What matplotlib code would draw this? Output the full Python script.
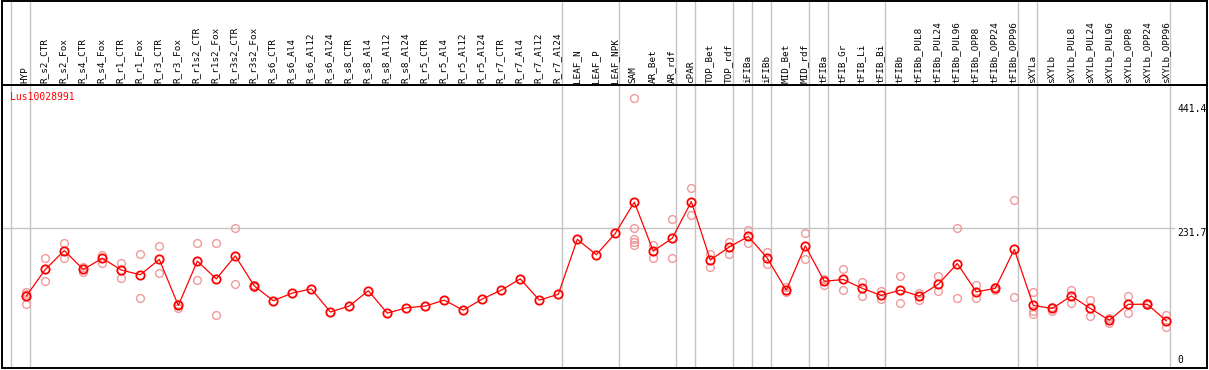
import numpy as np
import matplotlib
matplotlib.use("Agg")
import matplotlib.pyplot as plt

gene = "Lus10028991"

samples = [
    "HYP", "R_s2_CTR", "R_s2_Fox", "R_s4_CTR", "R_s4_Fox", "R_r1_CTR", "R_r1_Fox",
    "R_r3_CTR", "R_r3_Fox", "R_r1s2_CTR", "R_r1s2_Fox", "R_r3s2_CTR", "R_r3s2_Fox",
    "R_s6_CTR", "R_s6_Al4", "R_s6_Al12", "R_s6_Al24", "R_s8_CTR", "R_s8_Al4",
    "R_s8_Al12", "R_s8_Al24", "R_r5_CTR", "R_r5_Al4", "R_r5_Al12", "R_r5_Al24",
    "R_r7_CTR", "R_r7_Al4", "R_r7_Al12", "R_r7_Al24", "LEAF_N", "LEAF_P", "LEAF_NPK",
    "SAM", "AR_Bet", "AR_rdf", "cPAR", "TOP_Bet", "TOP_rdf", "iFIBa", "iFIBb",
    "MID_Bet", "MID_rdf", "tFIBa", "tFIB_Gr", "tFIB_Li", "tFIB_Bi", "tFIBb",
    "tFIBb_PUL8", "tFIBb_PUL24", "tFIBb_PUL96", "tFIBb_OPP8", "tFIBb_OPP24",
    "tFIBb_OPP96", "sXYLa", "sXYLb", "sXYLb_PUL8", "sXYLb_PUL24", "sXYLb_PUL96",
    "sXYLb_OPP8", "sXYLb_OPP24", "sXYLb_OPP96",
]

# mean expression per sample
means = [
    117, 162, 194, 162, 181, 161, 153, 179, 101, 176, 146, 185, 134,
    109, 122, 129, 90, 100, 126, 88, 97, 100, 110, 93, 112, 127, 146, 110, 120,
    213, 187, 223,
    276, 193, 215, 277, 178, 200, 218, 181, 127, 202, 142, 145, 130, 118, 127,
    117, 137, 172, 124, 130, 196, 101, 96, 117, 96, 76, 103, 103, 75,
]

# individual replicate values (empty where hidden behind the mean)
replicates = [
    [124, 121, 104], [181, 142], [207, 181], [166, 158], [187, 173], [173, 148],
    [189, 113], [202, 156], [104, 97], [207, 144], [207, 85], [232, 137], [136, 132],
    [], [], [], [], [], [], [], [], [], [], [], [], [], [], [], [],
    [], [], [],
    [452, 232, 214, 209, 204], [203, 182], [247, 181], [300, 255], [189, 167],
    [209, 189], [229, 207], [192, 171], [123, 132], [223, 179], [145, 136],
    [162, 127], [141, 117], [126, 112], [151, 105],
    [122, 110], [151, 125], [232, 113], [135, 114], [132, 128], [279, 115],
    [124, 92, 86], [99, 92], [128, 105], [110, 84], [79, 72], [117, 89],
    [105, 101], [85, 64],
]

# group separators (after these sample indices); -1 is the line before HYP
group_breaks = [-1, 0, 28, 31, 34, 35, 37, 38, 39, 41, 42, 45, 52, 53, 60]

scale_ticks = [441.4, 231.7, 0]

W, H = 1209, 370
fig = plt.figure(figsize=(W / 100, H / 100), dpi=100)

# pixel geometry of reference
x0_px, dx_px = 26.3, 19.0
y0_px, dy_px = 365.1, 0.5904
left_px, right_px = 2, 1207
head_bot_px, plot_bot_px = 85, 368

def xdat(px):
    return (px - x0_px) / dx_px

def ydat(py):
    return (y0_px - py) / dy_px

ax = fig.add_axes([left_px / W, (H - plot_bot_px) / H,
                   (right_px - left_px) / W, (plot_bot_px - head_bot_px) / H])
axh = fig.add_axes([left_px / W, (H - head_bot_px) / H,
                    (right_px - left_px) / W, (head_bot_px - 1) / H])

xlim = (xdat(left_px), xdat(right_px))
for a in (ax, axh):
    a.set_xlim(*xlim)
    a.set_xticks([])
    a.set_yticks([])
    for s in a.spines.values():
        s.set_color("black")
        s.set_linewidth(1.4)
ax.set_ylim(ydat(plot_bot_px), ydat(head_bot_px))
axh.set_ylim(0, 1)

grid_c = "#c4c4c4"
vlines = [b + 4.0 / dx_px for b in group_breaks]
for a in (ax, axh):
    for v in vlines:
        a.axvline(v, color=grid_c, lw=1.0, zorder=1)

ax.hlines(scale_ticks[1], xlim[0], xdat(1175), color=grid_c, lw=1.0, zorder=1)

x = np.arange(len(samples))
mono = "DejaVu Sans Mono"

for i, reps in enumerate(replicates):
    if reps:
        ax.plot([i] * len(reps), reps, linestyle="none", marker="o", ms=5.6,
                mfc="none", mec="#f09a9a", mew=1.0, zorder=2)

ax.plot(x, means, color="#ff0000", lw=0.9, marker="o", ms=6.0, mfc="none",
        mec="#ff0000", mew=1.3, zorder=3)

for i, name in enumerate(samples):
    axh.text(i - 0.05, 0.025, name, rotation=90, ha="center", va="bottom",
             family=mono, fontsize=6.7, color="black")

ax.text((10 - left_px) / (right_px - left_px), (plot_bot_px - 92) / (plot_bot_px - head_bot_px),
        gene, transform=ax.transAxes, ha="left", va="top", family=mono,
        fontsize=7, color="#ff0000", zorder=4)

lx = xdat(1177)
for t in scale_ticks[:2]:
    ax.text(lx, t, f"{t:.1f}", ha="left", va="top", family=mono, fontsize=7,
            color="black")
ax.text(lx, scale_ticks[2], "0", ha="left", va="bottom", family=mono,
        fontsize=7, color="black")

fig.savefig("out.png", dpi=100)
